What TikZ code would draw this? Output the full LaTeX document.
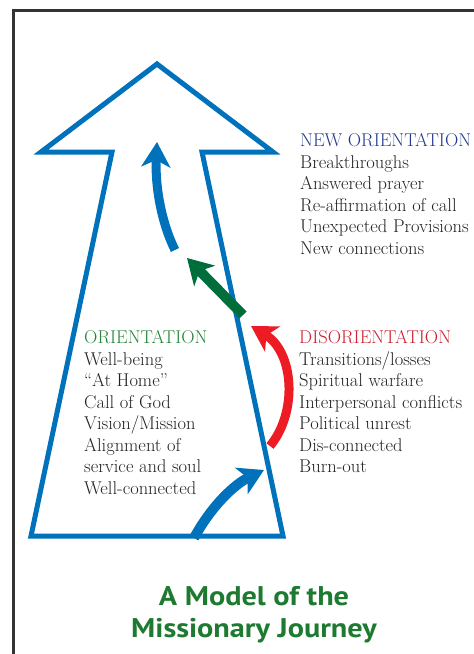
\documentclass[tikz,border=0pt]{standalone}
\usepackage{fontspec}
\newfontfamily\titlefont{PT Sans}
\usetikzlibrary{arrows.meta,positioning}

\definecolor{pathblue}{RGB}{0,114,188}
\definecolor{stepgreen}{RGB}{0,110,58}
\definecolor{stepred}{RGB}{237,28,36}
\definecolor{navytext}{RGB}{36,58,140}
\definecolor{greentext}{RGB}{36,132,56}
\definecolor{redtext}{RGB}{205,32,48}
\definecolor{bodytext}{RGB}{34,34,34}
\definecolor{titlegreen}{RGB}{30,122,48}

\tikzset{
  phase/.style={anchor=north west, inner sep=0pt, align=left, text=bodytext,
    font=\fontsize{18.5}{21.5}\selectfont},
  flow/.style={line width=9pt, -{Stealth[length=25pt,width=29pt,inset=7pt]}},
  headline/.style={anchor=base, inner sep=0pt, text=titlegreen,
    font=\titlefont\bfseries\fontsize{27}{32}\selectfont},
}

\begin{document}
\begin{tikzpicture}[x=1pt,y=-1pt]
\useasboundingbox (0,0) rectangle (474,654);

% frame
\draw [line width=3pt, black!80] (13,654) -- (13,10) -- (474,10);

% big arrow outline
\draw [pathblue, line width=5pt, miter limit=20]
  (157,64) -- (273,152) -- (202,152) -- (283,536) -- (31,536) -- (112,152) -- (41,152) -- cycle;

% ends of the flow arrows
\coordinate (startA) at (194,538);
\coordinate (endA)   at (264,470);
\coordinate (startB) at (270,446);
\coordinate (endB)   at (251,326);
\coordinate (startC) at (243,315);
\coordinate (endC)   at (187,258);
\coordinate (startD) at (175,250);
\coordinate (endD)   at (157,142);

\draw [flow, pathblue, line width=10pt] (startA) .. controls (212,505) and (235,484) .. (endA);
\draw [flow, stepred] (startB) .. controls (298,412) and (294,352) .. (endB);
\draw [flow, stepgreen, line width=10pt] (startC) -- (endC);
\draw [flow, pathblue] (startD) .. controls (161,222) and (155,185) .. (endD);

% phases
\node [phase] (orient) at (84,330.5) {\textcolor{greentext}{ORIENTATION}\\
  Well-being\\ ``At Home''\\ Call of God\\ Vision/Mission\\ Alignment of\\
  service and soul\\ Well-connected};
\node [phase] (neworient) at (300,133.5) {\textcolor{navytext}{NEW ORIENTATION}\\
  Breakthroughs\\ Answered prayer\\ Re-affirmation of call\\
  Unexpected Provisions\\ New connections};
\node [phase] (disorient) at (299,330.5) {\textcolor{redtext}{DISORIENTATION}\\
  Transitions/losses\\ Spiritual warfare\\ Interpersonal conflicts\\
  Political unrest\\ Dis-connected\\ Burn-out};

% title
\node [headline] (title1) at (254,605) {\scalebox{1.12}[1]{A Model of the}};
\node [headline] (title2) at (254,637) {\scalebox{1.12}[1]{Missionary Journey}};
\end{tikzpicture}
\end{document}
